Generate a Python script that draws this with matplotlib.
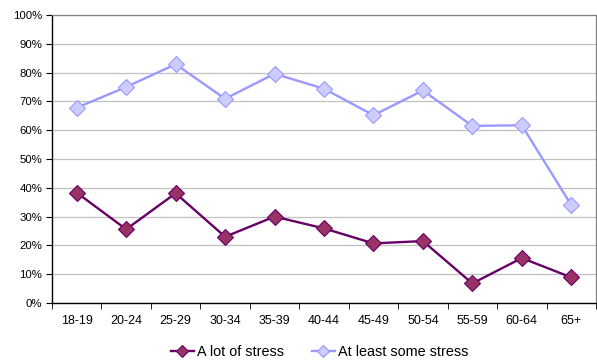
import matplotlib
matplotlib.use("Agg")
import matplotlib.pyplot as plt
from matplotlib.ticker import FixedLocator, PercentFormatter

plt.rcParams['font.family'] = ['Liberation Sans', 'DejaVu Sans']

age_groups = ["18-19", "20-24", "25-29", "30-34", "35-39", "40-44",
              "45-49", "50-54", "55-59", "60-64", "65+"]
a_lot_of_stress = [38.3, 25.6, 38.1, 23.0, 30.0, 25.9, 20.7, 21.5, 6.8, 15.6, 8.9]
at_least_some_stress = [67.8, 75.0, 82.9, 70.9, 79.6, 74.4, 65.2, 73.8, 61.5, 61.7, 34.0]

fig = plt.figure(figsize=(5.97, 3.63), dpi=100)
ax = fig.add_axes([52 / 597, 60 / 363, 544 / 597, 288 / 363])

x = list(range(len(age_groups)))
ax.plot(x, a_lot_of_stress, color="#660066", lw=1.7, marker="D", ms=8,
        markerfacecolor="#993366", markeredgecolor="#660066", mew=0.8,
        label="A lot of stress", zorder=3)
ax.plot(x, at_least_some_stress, color="#9999FF", lw=1.7, marker="D", ms=8,
        markerfacecolor="#CCCCFF", markeredgecolor="#9999FF", mew=0.8,
        label="At least some stress", zorder=3)

ax.set_xlim(-0.5, len(age_groups) - 0.5)
ax.set_ylim(0, 100)
ax.set_yticks(range(0, 101, 10))
ax.yaxis.set_major_formatter(PercentFormatter(decimals=0))
ax.set_xticks(x)
ax.set_xticklabels(age_groups)
ax.xaxis.set_minor_locator(FixedLocator([i - 0.5 for i in range(len(age_groups) + 1)]))
ax.tick_params(axis="x", which="major", length=0, pad=9, labelsize=9)
ax.tick_params(axis="x", which="minor", length=4, direction="out", color="black")
ax.tick_params(axis="y", length=4, direction="out", labelsize=8.2, pad=3)

ax.grid(axis="y", color="#C0C0C0", lw=0.9, zorder=0)
ax.set_axisbelow(True)
for side in ("top", "right"):
    ax.spines[side].set_color("#808080")
    ax.spines[side].set_linewidth(0.9)
for side in ("left", "bottom"):
    ax.spines[side].set_color("black")
    ax.spines[side].set_linewidth(1.0)

ax.legend(loc="upper center", bbox_to_anchor=(0.492, -0.145), ncol=2, frameon=False,
          fontsize=10.4, handlelength=1.6, handletextpad=0.25, columnspacing=1.9,
          markerscale=0.75, borderaxespad=0, borderpad=0)

fig.savefig("out.png", dpi=100)
